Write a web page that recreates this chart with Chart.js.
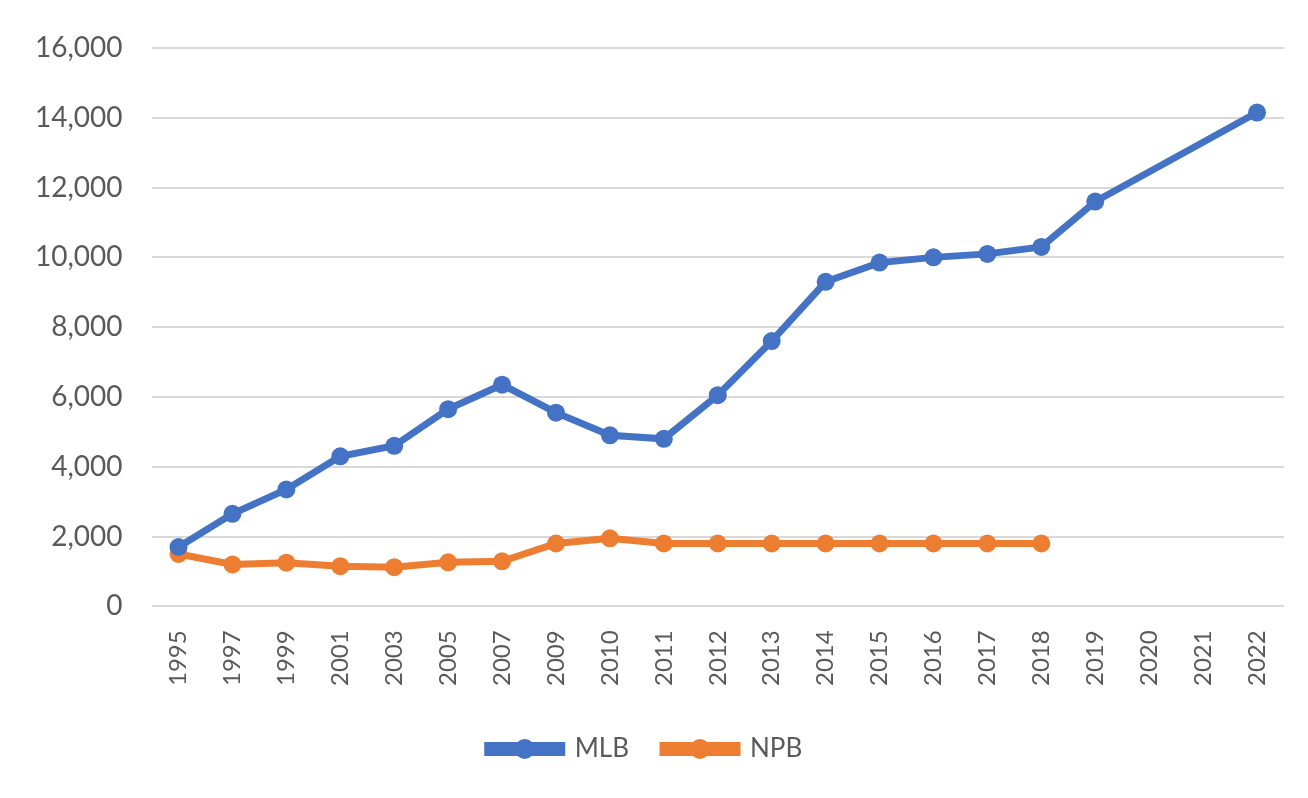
<!DOCTYPE html>
<html>
<head>
<meta charset="utf-8">
<script src="https://cdn.jsdelivr.net/npm/chart.js@4"></script>
<style>
  body { margin: 0; background: #fff; }
</style>
</head>
<body>
<canvas id="myChart" width="1308" height="798"></canvas>
<script>
const years = ['1995', '1997', '1999', '2001', '2003', '2005', '2007', '2009', '2010', '2011',
    '2012', '2013', '2014', '2015', '2016', '2017', '2018', '2019', '2020', '2021', '2022'];
const mlb = [1700, 2650, 3350, 4300, 4600, 5650, 6350, 5550, 4900, 4800,
    6050, 7600, 9300, 9850, 10000, 10100, 10300, 11600, null, null, 14150];
const npb = [1500, 1200, 1250, 1150, 1120, 1260, 1290, 1800, 1950, 1800,
    1800, 1800, 1800, 1800, 1800, 1800, 1800, null, null, null, null];

const blue = '#4472C4';
const orange = '#ED7D31';
const font = 'Lato, "Open Sans", sans-serif';

// put a dot in the middle of each legend line
const legendDots = {
    id: 'legendDots',
    afterDraw(chart) {
        const lg = chart.legend;
        if (!lg || !lg.legendHitBoxes) return;
        const ctx = chart.ctx;
        lg.legendHitBoxes.forEach((box, i) => {
            const ds = chart.data.datasets[i];
            const bw = lg.options.labels.boxWidth;
            ctx.save();
            ctx.fillStyle = ds.borderColor;
            ctx.beginPath();
            ctx.arc(box.left + bw / 2, box.top + box.height / 2, 10, 0, Math.PI * 2);
            ctx.fill();
            ctx.restore();
        });
    }
};

let ctx = document.getElementById('myChart').getContext('2d');
let chart = new Chart(ctx, {
    type: 'line',
    data: {
        labels: years,
        datasets: [{
            label: 'MLB',
            data: mlb,
            borderColor: blue,
            backgroundColor: blue,
            borderWidth: 7,
            pointRadius: 9,
            pointBorderWidth: 0,
            spanGaps: true
        }, {
            label: 'NPB',
            data: npb,
            borderColor: orange,
            backgroundColor: orange,
            borderWidth: 7,
            pointRadius: 9,
            pointBorderWidth: 0
        }]
    },
    options: {
        responsive: false,
        animation: false,
        layout: { padding: { top: 48, left: 6, right: 24, bottom: 26 } },
        scales: {
            x: {
                offset: true,
                grid: { display: false },
                border: { display: false },
                ticks: {
                    minRotation: 90,
                    maxRotation: 90,
                    autoSkip: false,
                    color: '#595959',
                    padding: 16,
                    font: { family: font, size: 24 }
                }
            },
            y: {
                min: 0,
                max: 16000,
                ticks: {
                    stepSize: 2000,
                    color: '#595959',
                    padding: 29,
                    font: { family: font, size: 28 },
                    callback: v => v.toLocaleString('en-US')
                },
                grid: { color: '#d9d9d9', lineWidth: 2, drawTicks: false },
                border: { display: false }
            }
        },
        plugins: {
            legend: {
                position: 'bottom',
                labels: {
                    boxWidth: 74,
                    boxHeight: 7,
                    padding: 34,
                    color: '#595959',
                    font: { family: font, size: 26 }
                }
            },
            tooltip: { enabled: false }
        }
    },
    plugins: [legendDots]
});
</script>
</body>
</html>
